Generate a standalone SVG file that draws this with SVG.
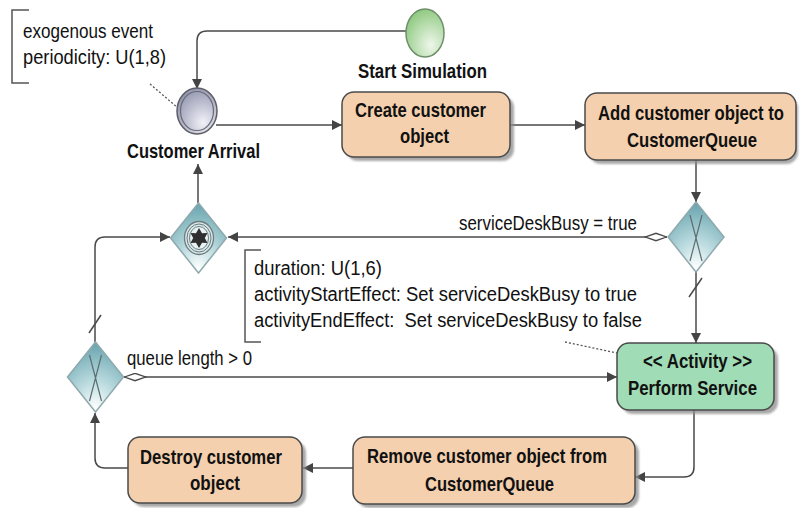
<svg xmlns="http://www.w3.org/2000/svg" width="801" height="508" viewBox="0 0 801 508">
  <defs>
    <style>
      .task { fill: #f4d0ae; stroke: #4a4a4a; stroke-width: 1.5; }
      .activity { fill: #a0dcb5; stroke: #4a4a4a; stroke-width: 1.5; }
      .shadow { fill: #8c8c8c; opacity: 0.75; filter: url(#soft); }
      .gw { fill: url(#gwFill); stroke: #8fa9ad; stroke-width: 1.5; }
      .gwX { fill: none; stroke: #5d6d70; stroke-width: 1.2; }
      .flow { fill: none; stroke: #4a4a4a; stroke-width: 1.5; marker-end: url(#arrow); }
      .cond { marker-start: url(#condDiamond); }
      .tick { stroke: #4a4a4a; stroke-width: 1.5; }
      .assoc { fill: none; stroke: #555; stroke-width: 1.3; stroke-dasharray: 2 2; }
      .bracket { fill: none; stroke: #555; stroke-width: 1.5; }
      .bold { font-family: "Liberation Sans Narrow", "Liberation Sans", Arial, sans-serif; font-weight: bold; font-size: 20.5px; fill: #111; }
      .plain { font-family: "Liberation Sans Narrow", "Liberation Sans", Arial, sans-serif; font-size: 20px; fill: #111; }
    </style>
    <filter id="soft" x="-10%" y="-10%" width="120%" height="130%">
      <feGaussianBlur stdDeviation="1.2"/>
    </filter>
    <radialGradient id="gwFill" cx="0.5" cy="0.95" r="0.9">
      <stop offset="0" stop-color="#ffffff"/>
      <stop offset="0.45" stop-color="#b9dade"/>
      <stop offset="1" stop-color="#6ea8b2"/>
    </radialGradient>
    <radialGradient id="startFill" cx="0.65" cy="0.75" r="0.8">
      <stop offset="0" stop-color="#eef7ea"/>
      <stop offset="1" stop-color="#8cc87d"/>
    </radialGradient>
    <radialGradient id="interFill" cx="0.65" cy="0.75" r="0.8">
      <stop offset="0" stop-color="#f1f1f8"/>
      <stop offset="1" stop-color="#8f93ad"/>
    </radialGradient>
    <marker id="arrow" markerUnits="userSpaceOnUse" markerWidth="11" markerHeight="11" refX="10" refY="5" orient="auto">
      <path d="M0,0 L10,5 L0,10 z" fill="#444"/>
    </marker>
    <marker id="condDiamond" markerUnits="userSpaceOnUse" markerWidth="23" markerHeight="10" refX="0" refY="4.5" orient="auto">
      <path d="M0.5,4.5 L11,0.8 L21.5,4.5 L11,8.2 z" fill="#fff" stroke="#4a4a4a" stroke-width="1.3"/>
    </marker>
  </defs>

  <!-- annotations -->
  <g id="note-arrival">
    <path class="bracket" d="M29,10 H12 V83 H29"/>
    <text class="plain" x="23" y="38" textLength="130" lengthAdjust="spacingAndGlyphs">exogenous event</text>
    <text class="plain" x="23" y="64" textLength="143" lengthAdjust="spacingAndGlyphs">periodicity: U(1,8)</text>
  </g>
  <g id="note-service">
    <path class="bracket" d="M261,250 H245 V342 H261"/>
    <text class="plain" x="254" y="275" textLength="128" lengthAdjust="spacingAndGlyphs">duration: U(1,6)</text>
    <text class="plain" x="254" y="301" textLength="383" lengthAdjust="spacingAndGlyphs">activityStartEffect: Set serviceDeskBusy to true</text>
    <text class="plain" x="254" y="327" textLength="388" lengthAdjust="spacingAndGlyphs" xml:space="preserve">activityEndEffect:  Set serviceDeskBusy to false</text>
  </g>

  <!-- connectors -->
  <g id="connectors">
    <path class="flow" d="M406,31 H207 Q197,31 197,41 V89"/>
    <path class="flow" d="M216,125 H342"/>
    <path class="flow" d="M510,125 H585"/>
    <path class="flow" d="M696,160 V202"/>
    <path class="flow" d="M696,272 V343"/>
    <line class="tick" x1="689" y1="297" x2="702" y2="278"/>
    <path class="flow cond" d="M667,237 H228"/>
    <text class="plain" x="459" y="230" textLength="178" lengthAdjust="spacingAndGlyphs">serviceDeskBusy = true</text>
    <path class="flow" d="M198,203 V164"/>
    <path class="flow" d="M694,410 V467 Q694,477 684,477 H635"/>
    <path class="flow" d="M353,468 H303"/>
    <path class="flow" d="M128,468 H105 Q95,468 95,458 V413"/>
    <path class="flow" d="M95,342 V247 Q95,237 105,237 H170"/>
    <line class="tick" x1="89" y1="333" x2="101" y2="315"/>
    <path class="flow cond" d="M124,377 H617"/>
    <text class="plain" x="127" y="365" textLength="125" lengthAdjust="spacingAndGlyphs">queue length &gt; 0</text>
    <path class="assoc" d="M150,84 L178,108"/>
    <path class="assoc" d="M565,342 L617,353"/>
  </g>

  <!-- events -->
  <g id="start-simulation">
    <ellipse cx="425" cy="33" rx="19" ry="24" fill="url(#startFill)" stroke="#6f8f6c" stroke-width="1.5"/>
    <text class="bold" x="358" y="78" textLength="129" lengthAdjust="spacingAndGlyphs">Start Simulation</text>
  </g>
  <g id="customer-arrival">
    <ellipse cx="197" cy="111" rx="20" ry="23" fill="url(#interFill)" stroke="#5e5e66" stroke-width="1.5"/>
    <ellipse cx="197" cy="111" rx="16.5" ry="19.5" fill="none" stroke="#6a6a74" stroke-width="1.2"/>
    <text class="bold" x="127" y="158" textLength="133" lengthAdjust="spacingAndGlyphs">Customer Arrival</text>
  </g>

  <!-- tasks -->
  <g id="create-customer">
    <rect class="shadow" x="346" y="96" width="168" height="65" rx="12"/>
    <rect class="task" x="342" y="92" width="168" height="65" rx="12"/>
    <text class="bold" x="355" y="117" textLength="131" lengthAdjust="spacingAndGlyphs">Create customer</text>
    <text class="bold" x="400" y="143" textLength="49" lengthAdjust="spacingAndGlyphs">object</text>
  </g>
  <g id="add-to-queue">
    <rect class="shadow" x="589" y="97" width="209" height="67" rx="12"/>
    <rect class="task" x="585" y="93" width="211" height="67" rx="12"/>
    <text class="bold" x="598" y="120" textLength="186" lengthAdjust="spacingAndGlyphs">Add customer object to</text>
    <text class="bold" x="627" y="147" textLength="130" lengthAdjust="spacingAndGlyphs">CustomerQueue</text>
  </g>
  <g id="perform-service">
    <rect class="shadow" x="621" y="347" width="157" height="67" rx="12"/>
    <rect class="activity" x="617" y="343" width="157" height="67" rx="12"/>
    <text class="bold" x="643" y="368" textLength="109" lengthAdjust="spacingAndGlyphs">&lt;&lt; Activity &gt;&gt;</text>
    <text class="bold" x="628" y="395" textLength="129" lengthAdjust="spacingAndGlyphs">Perform Service</text>
  </g>
  <g id="remove-from-queue">
    <rect class="shadow" x="357" y="441" width="282" height="67" rx="12"/>
    <rect class="task" x="353" y="437" width="282" height="67" rx="12"/>
    <text class="bold" x="367" y="463" textLength="240" lengthAdjust="spacingAndGlyphs">Remove customer object from</text>
    <text class="bold" x="425" y="491" textLength="129" lengthAdjust="spacingAndGlyphs">CustomerQueue</text>
  </g>
  <g id="destroy-customer">
    <rect class="shadow" x="132" y="441" width="174" height="66" rx="12"/>
    <rect class="task" x="128" y="437" width="174" height="66" rx="12"/>
    <text class="bold" x="140" y="464" textLength="142" lengthAdjust="spacingAndGlyphs">Destroy customer</text>
    <text class="bold" x="190" y="490" textLength="50" lengthAdjust="spacingAndGlyphs">object</text>
  </g>

  <!-- gateways -->
  <g id="desk-busy-gateway">
    <polygon class="gw" points="696,202 724,237 696,272 668,237"/>
    <path class="gwX" d="M690,215 Q696,238 702,261 M702,215 Q696,238 690,261"/>
  </g>
  <g id="queue-gateway">
    <polygon class="gw" points="95.5,342 123.5,377 95.5,412 67.5,377"/>
    <path class="gwX" d="M89.5,355 Q95.5,378 101.5,401 M101.5,355 Q95.5,378 89.5,401"/>
  </g>
  <g id="merge-gateway">
    <polygon class="gw" points="198.5,203 226.5,238 198.5,273 170.5,238"/>
    <ellipse cx="199" cy="238" rx="14.5" ry="16.5" fill="#d5e8ea" stroke="#6f7b7d" stroke-width="1.3"/>
    <ellipse cx="199" cy="238" rx="12" ry="14" fill="none" stroke="#6f7b7d" stroke-width="1"/>
    <ellipse cx="199" cy="238" rx="9.5" ry="11.5" fill="#e8f2f3" stroke="#6f7b7d" stroke-width="1"/>
    <polygon fill="#2f2f2f" points="199,228 202,233.2 207.5,233 204.8,238 207.5,243 202,242.8 199,248 196,242.8 190.5,243 193.2,238 190.5,233 196,233.2"/>
  </g>
</svg>
